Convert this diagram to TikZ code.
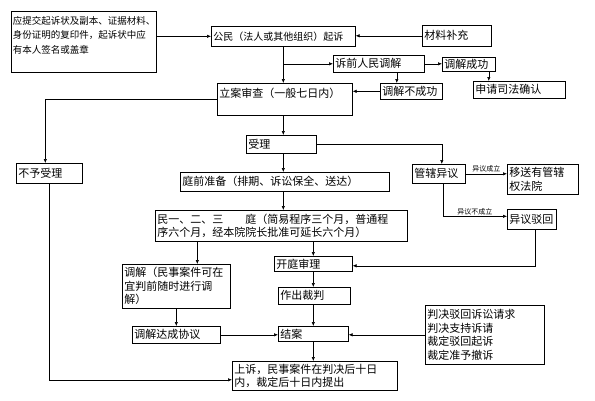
\documentclass[tikz,border=0pt]{standalone}
\usepackage{fontspec}
\setmainfont{Noto Sans CJK SC}
\usetikzlibrary{arrows.meta}

\begin{document}
\begin{tikzpicture}[x=1pt, y=-1pt]
    \tikzset{flow lines/.style={line width=0.6pt, black, -{Latex[length=4pt,width=3.5pt]}},
             proc box/.style={draw, line width=0.6pt, anchor=north west, align=left,
                 inner xsep=2pt, inner ysep=1pt, font=\fontsize{11}{13.5}\selectfont},
             note/.style={font=\fontsize{7}{8}\selectfont, inner sep=1pt, above}}
    \useasboundingbox (0, 0) rectangle (595, 400);
    % \draw[gray!30] (0, 0) grid[step=50] (595, 400);
    \node[proc box, text width=142pt, inner xsep=1.5pt, minimum height=61pt,
          font=\fontsize{9.5}{14.5}\selectfont] (tijiao) at (11, 11)
          {应提交起诉状及副本、证据材料、\\身份证明的复印件，起诉状中应\\有本人签名或盖章\\ \mbox{}};
    \node[proc box, text width=140pt, minimum height=20pt,
          font=\fontsize{10}{12}\selectfont] (gongmin) at (211, 26) {公民（法人或其他组织）起诉};
    \node[proc box, text width=65pt, minimum height=21pt] (cailiao) at (422, 25) {材料补充};
    \node[proc box, text width=87pt, minimum height=17pt] (suqian) at (333, 55) {诉前人民调解};
    \node[proc box, text width=49pt, minimum height=14pt] (chenggong) at (442, 57) {调解成功};
    \node[proc box, text width=88pt, minimum height=17pt] (queren) at (473, 81) {申请司法确认};
    \node[proc box, text width=131pt, minimum height=32pt] (lian) at (217, 83) {立案审查（一般七日内）\\ \mbox{}};
    \node[proc box, text width=58pt, minimum height=16pt] (bucheng) at (380, 83) {调解不成功};
    \node[proc box, text width=66pt, minimum height=18pt] (shouli) at (246, 135) {受理};
    \node[proc box, text width=62pt, minimum height=20pt] (buyu) at (16, 163) {不予受理};
    \node[proc box, text width=205pt, minimum height=19pt] (tingqian) at (180, 172) {庭前准备（排期、诉讼保全、送达）};
    \node[proc box, text width=49pt, minimum height=19pt] (guanxia) at (412, 164) {管辖异议};
    \node[proc box, text width=67pt, minimum height=30pt] (yisong) at (507, 164) {移送有管辖\\权法院};
    \node[proc box, text width=45pt, minimum height=20pt] (bohui) at (507, 209) {异议驳回};
    \node[proc box, text width=248pt, minimum height=31pt] (minyi) at (155, 210)
          {民一、二、三\hspace{2em}庭（简易程序三个月，普通程\\序六个月，经本院院长批准可延长六个月）};
    \node[proc box, text width=74pt, minimum height=15pt] (kaiting) at (274, 256) {开庭审理};
    \node[proc box, text width=68pt, minimum height=17pt] (zuochu) at (278, 287) {作出裁判};
    \node[proc box, text width=104pt, minimum height=44pt] (tiaojie) at (122, 264)
          {调解（民事案件可在\\宜判前随时进行调\\解）};
    \node[proc box, text width=84pt, minimum height=17pt] (xieyi) at (132, 326) {调解达成协议};
    \node[proc box, text width=66pt, minimum height=15pt] (jiean) at (278, 326) {结案};
    \node[proc box, text width=115pt, minimum height=59pt] (panjue) at (425, 305)
          {判决驳回诉讼请求\\判决支持诉请\\裁定驳回起诉\\裁定准予撤诉};
    \node[proc box, text width=161pt, minimum height=29pt] (shangsu) at (232, 361)
          {上诉，民事案件在判决后十日\\内，裁定后十日内提出};

    \draw [flow lines] (tijiao.east |- gongmin.west) -- (gongmin.west);
    \draw [flow lines] (cailiao.west) -- (cailiao.west -| gongmin.east);
    \draw [flow lines] (gongmin.south) -- (gongmin.south |- lian.north);
    \draw [flow lines] (gongmin.south |- suqian.west) -- (suqian.west);
    \draw [flow lines] (suqian.east) -- (suqian.east -| chenggong.west);
    \draw [flow lines] ([xshift=20pt]chenggong.south) -- ([xshift=20pt]chenggong.south |- queren.north);
    \draw [flow lines] ([xshift=18pt]suqian.south) -- ([xshift=18pt]suqian.south |- bucheng.north);
    \draw [flow lines] (bucheng.west) -- (bucheng.west -| lian.east);
    \draw [flow lines] (lian.west) -| ([xshift=-4pt]buyu.north);
    \draw [flow lines] (gongmin.south |- lian.south) -- (gongmin.south |- shouli.north);
    \draw [flow lines] (shouli.east) -| ([xshift=3pt]guanxia.north);
    \draw [flow lines] (gongmin.south |- shouli.south) -- (gongmin.south |- tingqian.north);
    \draw [flow lines] (gongmin.south |- tingqian.south) -- (gongmin.south |- minyi.north);
    \draw [flow lines] (guanxia.east) -- (guanxia.east -| yisong.west)
        node[note, midway] {异议成立};
    \draw [flow lines] ([xshift=4pt]guanxia.south) |- ([yshift=3pt]bohui.west)
        node[note, pos=0.75] {异议不成立};
    \draw [flow lines] ([xshift=3pt]bohui.south) |- ([yshift=-2pt]kaiting.east);
    \draw [flow lines] (kaiting.north |- minyi.south) -- (kaiting.north);
    \draw [flow lines] ([xshift=21pt]tiaojie.north |- minyi.south) -- ([xshift=21pt]tiaojie.north);
    \draw [flow lines] (kaiting.south) -- (kaiting.south |- zuochu.north);
    \draw [flow lines] (kaiting.south |- zuochu.south) -- (kaiting.south |- jiean.north);
    \draw [flow lines] (tiaojie.south) -- (tiaojie.south |- xieyi.north);
    \draw [flow lines] (xieyi.east) -- (xieyi.east -| jiean.west);
    \draw [flow lines] (panjue.west) -- (panjue.west -| jiean.east);
    \draw [flow lines] (jiean.south) -- (jiean.south |- shangsu.north);
    \draw [flow lines] (buyu.south) |- ([yshift=-4pt]shangsu.west);
\end{tikzpicture}
\end{document}
